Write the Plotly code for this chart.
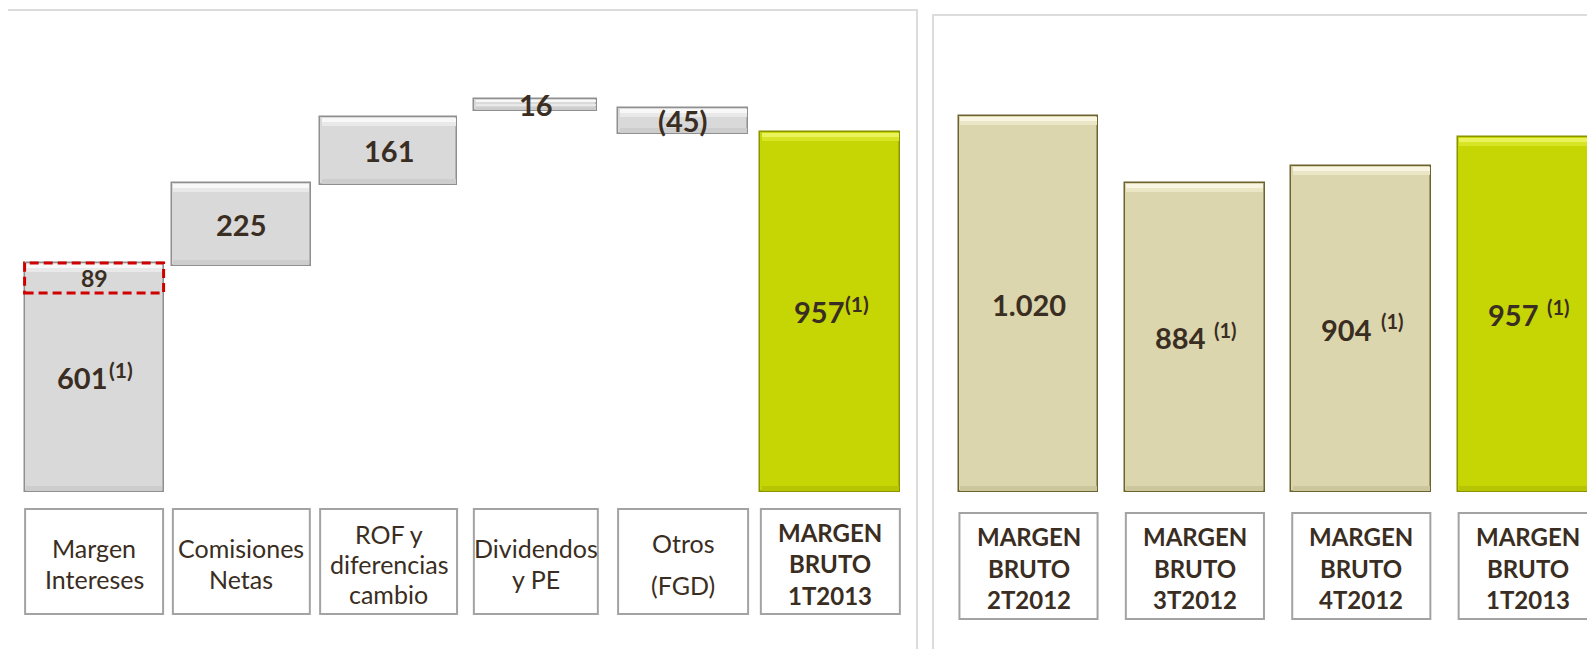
import plotly.graph_objects as go

# ---------------- data ----------------
left_categories = ["Margen<br>Intereses", "Comisiones<br>Netas", "ROF y<br>diferencias<br>cambio",
                   "Dividendos<br>y PE", "Otros<br>(FGD)", "MARGEN<br>BRUTO<br>1T2013"]
left_labels = ["601", "225", "161", "16", "(45)", "957"]
left_footnotes = ["(1)", "", "", "", "", "(1)"]
left_start = [0, 601, 816, 1013, 952, 0]        # floating bar bottoms (value units)
left_end = [609, 821, 997, 1045, 1021, 957]     # floating bar tops (value units)
adj_label = "89"                                 # dashed part on top of the first bar
adj_start = 529

right_categories = ["MARGEN<br>BRUTO<br>2T2012", "MARGEN<br>BRUTO<br>3T2012",
                    "MARGEN<br>BRUTO<br>4T2012", "MARGEN<br>BRUTO<br>1T2013"]
right_labels = ["1.020", "884", "904", "957"]
right_footnotes = ["", "(1)", "(1)", "(1)"]
right_values = [1020, 838, 884, 963]

# ---------------- styling / geometry ----------------
OX, OY = 8, 8                      # page body margin of the browser
W, H = 1595 - OX, 649 - OY
BASE_PX = 492                      # baseline, in reference pixels
SL, SR = 0.3762, 0.3686            # px per value unit (left / right panel)
L_C0, L_STEP = 94.1, 147.25        # ref px of first category centre, px per category
R_C0, R_STEP = 1028.5, 166.4
L_X0, L_X1 = 8, 917
R_X0, R_X1 = 933, 1595


def px(x):
    return (x - OX) / W


def py(y):
    return 1 - (y - OY) / H


TXT = "#3a2d22"
FONT = "Lato, 'Open Sans', sans-serif"
GRAY, GREEN, BEIGE = "#d9d9d9", "#c6d605", "#dbd6ae"
GRAY_B, GREEN_B, BEIGE_B = "#8f8f8f", "#8a9400", "#6d6330"

left_w = [0.944, 0.944, 0.93, 0.835, 0.883, 0.951]
left_box_w = [0.937, 0.93, 0.93, 0.842, 0.883, 0.944]
left_line_gap = [31.5, 31.5, 30, 31.5, 42, 31.5]
left_kind = ["g"] * 5 + ["y"]
left_bold = [False] * 5 + [True]

right_w = [0.841] * 4
right_box_w = [0.83] * 4
right_kind = ["b"] * 3 + ["y"]

FILL = {"g": GRAY, "y": GREEN, "b": BEIGE}
BORDER = {"g": GRAY_B, "y": GREEN_B, "b": BEIGE_B}
# bevel strips: (offset px from top (+) or bottom (-), thickness px, colours)
BEVEL = [
    (1.2, 3.5, {"g": "#f8f8f8", "y": "#eaf35c", "b": "#f8f5e3"}),
    (4.7, 4.0, {"g": "#e9e9e9", "y": "#d8e526", "b": "#ebe6c6"}),
    (-1.2, 5.0, {"g": "#cdcdcd", "y": "#b6c404", "b": "#ccc69d"}),
]

fig = go.Figure()


def add_panel(xs, starts, ends, widths, kinds, scale, step, xa, ya):
    lengths = [e - s for s, e in zip(starts, ends)]
    fig.add_trace(go.Bar(x=xs, y=lengths, base=starts, width=widths,
                         marker=dict(color=[FILL[k] for k in kinds],
                                     line=dict(color=[BORDER[k] for k in kinds], width=1.5)),
                         xaxis=xa, yaxis=ya, hoverinfo="skip", showlegend=False))
    for off, th, cols in BEVEL:
        bl, bb, iw = [], [], []
        for s, e, w in zip(starts, ends, widths):
            hpx = (e - s) * scale
            t = min(th, 0.2 * hpx)
            bl.append(t / scale)
            if off > 0:
                o = min(off, 0.45 * hpx)
                bb.append(e - (o + t) / scale)
            else:
                bb.append(s - off / scale)
            iw.append(w - 3.0 / step)
        fig.add_trace(go.Bar(x=xs, y=bl, base=bb, width=iw,
                             marker=dict(color=[cols[k] for k in kinds], line=dict(width=0)),
                             xaxis=xa, yaxis=ya, hoverinfo="skip", showlegend=False))


left_x = list(range(len(left_categories)))
right_x = list(range(len(right_categories)))
right_start = [0] * len(right_values)

add_panel(left_x, left_start, left_end, left_w, left_kind, SL, L_STEP, "x", "y")
add_panel(right_x, right_start, right_values, right_w, right_kind, SR, R_STEP, "x2", "y2")

shapes = []
annotations = []

# panel frames
shapes.append(dict(type="rect", xref="paper", yref="paper", x0=px(7), x1=px(917),
                   y0=-0.05, y1=py(10), line=dict(color="#dcdcdc", width=2), layer="below"))
shapes.append(dict(type="rect", xref="paper", yref="paper", x0=px(933), x1=1.05,
                   y0=-0.05, y1=py(15), line=dict(color="#dcdcdc", width=2), layer="below"))

# dashed red box on the first bar's top part
shapes.append(dict(type="rect", xref="x", yref="y", x0=left_x[0] - left_w[0] / 2,
                   x1=left_x[0] + left_w[0] / 2, y0=adj_start, y1=left_end[0],
                   line=dict(color="#d00000", width=3, dash="9px,5px")))


def add_boxes(xs, labels, box_w, top_px, bot_px, gaps, bolds, xa):
    for x, lab, bw, g, b in zip(xs, labels, box_w, gaps, bolds):
        shapes.append(dict(type="rect", xref=xa, yref="paper", x0=x - bw / 2, x1=x + bw / 2,
                           y0=py(bot_px), y1=py(top_px), fillcolor="white",
                           line=dict(color="#a3a3a3", width=2)))
        lines = lab.split("<br>")
        cy = (top_px + bot_px) / 2 + 2
        n = len(lines)
        for k, ln in enumerate(lines):
            ypx = cy + (k - (n - 1) / 2) * g
            annotations.append(dict(x=x, y=py(ypx), xref=xa, yref="paper", text=ln,
                                    showarrow=False, xanchor="center", yanchor="middle",
                                    font=dict(family=FONT, size=25 if not b else 24, color=TXT,
                                              weight="bold" if b else "normal")))


add_boxes(left_x, left_categories, left_box_w, 509, 614, left_line_gap, left_bold, "x")
add_boxes(right_x, right_categories, right_box_w, 513, 619, [31.5] * 4, [True] * 4, "x2")

# value labels (number + raised footnote, centred together)
CW = {"(": 0.33, ")": 0.33, ".": 0.26, " ": 0.25}


def text_w(s, size):
    return sum(CW.get(c, 0.58) for c in s) * size


def add_value(x, y, xa, ya, lab, fn, size, gap, fsize):
    wn = text_w(lab, size)
    if not fn:
        annotations.append(dict(x=x, y=y, xref=xa, yref=ya, text=lab, showarrow=False,
                                xanchor="center", yanchor="middle",
                                font=dict(family=FONT, size=size, color=TXT, weight="bold")))
        return
    wf = text_w(fn, fsize)
    total = wn + gap + wf
    annotations.append(dict(x=x, y=y, xref=xa, yref=ya, text=lab, showarrow=False,
                            xanchor="left", yanchor="middle", xshift=-total / 2,
                            font=dict(family=FONT, size=size, color=TXT, weight="bold")))
    annotations.append(dict(x=x, y=y, xref=xa, yref=ya, text=fn, showarrow=False,
                            xanchor="left", yanchor="middle", xshift=-total / 2 + wn + gap,
                            yshift=8,
                            font=dict(family=FONT, size=fsize, color=TXT, weight="bold")))


for x, lab, fn, s, e in zip(left_x, left_labels, left_footnotes, left_start, left_end):
    add_value(x, (s + e) / 2, "x", "y", lab, fn, 29, 1, 21)
annotations.append(dict(x=left_x[0], y=(adj_start + left_end[0]) / 2, xref="x", yref="y",
                        text=adj_label, showarrow=False, xanchor="center", yanchor="middle",
                        font=dict(family=FONT, size=23, color=TXT, weight="bold")))

for x, lab, fn, v in zip(right_x, right_labels, right_footnotes, right_values):
    add_value(x, v / 2, "x2", "y2", lab, fn, 29, 9, 20)

axis_off = dict(visible=False, showgrid=False, zeroline=False, fixedrange=True)
fig.update_layout(
    width=W, height=H, margin=dict(l=0, r=0, t=0, b=0),
    paper_bgcolor="white", plot_bgcolor="white",
    barmode="overlay", bargap=0, showlegend=False,
    xaxis=dict(domain=[0, px(L_X1)], range=[(L_X0 - L_C0) / L_STEP, (L_X1 - L_C0) / L_STEP],
               anchor="y", **axis_off),
    yaxis=dict(domain=[0, 1], range=[-(649 - BASE_PX) / SL, (BASE_PX - OY) / SL],
               anchor="x", **axis_off),
    xaxis2=dict(domain=[px(R_X0), 1], range=[(R_X0 - R_C0) / R_STEP, (R_X1 - R_C0) / R_STEP],
                anchor="y2", **axis_off),
    yaxis2=dict(domain=[0, 1], range=[-(649 - BASE_PX) / SR, (BASE_PX - OY) / SR],
                anchor="x2", **axis_off),
    shapes=shapes, annotations=annotations,
)

fig.write_html("out.html")
